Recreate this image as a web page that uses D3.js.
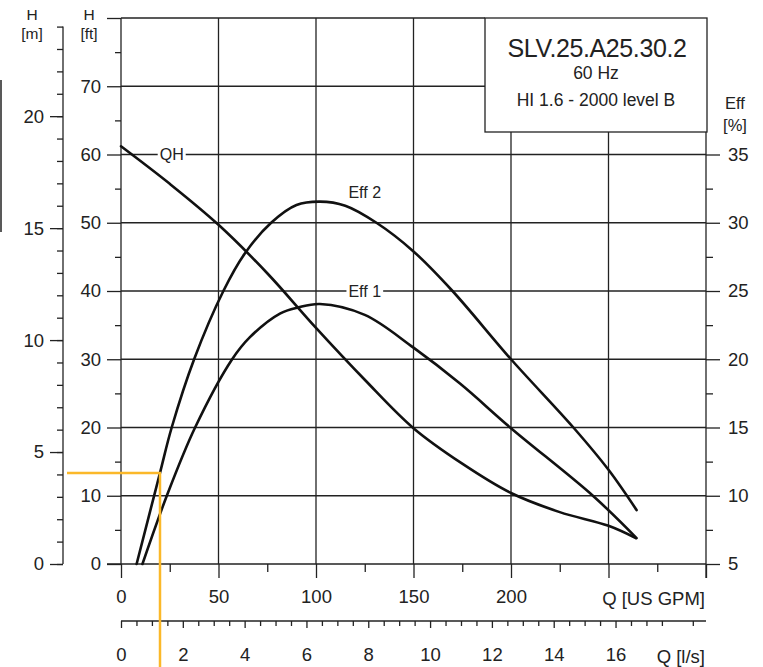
<!DOCTYPE html>
<html>
<head>
<meta charset="utf-8">
<script src="https://cdn.jsdelivr.net/npm/d3@7"></script>
<style>
body { margin: 0; background: #fff; }
text { font-family: "Liberation Sans", Arial, sans-serif; fill: #222; }
</style>
</head>
<body>
<script>
// QH curve: flow in US GPM, head in ft
const qhQ  = [0, 25, 50, 75, 100, 125, 150, 175, 200, 225, 250, 264];
const qhFt = [61.2, 55.7, 49.7, 42.6, 34.6, 27.0, 19.9, 14.7, 10.4, 7.6, 5.6, 3.8];

// efficiency curves, %
const eff1Q = [11, 23.5, 38, 57, 66, 81.5, 91, 102, 125, 150, 174, 200, 242, 264.4];
const eff1  = [5, 10, 15, 20, 21.6, 23.35, 23.8, 24.05, 23.25, 20.85, 18.2, 14.95, 10, 6.9];
const eff2Q = [8, 20, 26, 37.5, 52.5, 63.5, 77, 90, 102, 115, 131, 150, 170, 200, 232, 250, 264.4];
const eff2  = [5, 11.68, 15, 20, 25, 27.75, 30, 31.3, 31.55, 31.25, 30, 27.9, 25, 20, 15, 11.9, 8.95];

// duty point (GPM, ft)
const dutyPoint = [20, 13.35];

const gpmTicks = [0, 50, 100, 150, 200, 250, 300];
const ftTicks  = [0, 10, 20, 30, 40, 50, 60, 70, 80];
const mTicks   = [0, 5, 10, 15, 20];
const effTicks = [5, 10, 15, 20, 25, 30, 35];
const lsTicks  = [0, 2, 4, 6, 8, 10, 12, 14, 16, 18];
const titleLines = ["SLV.25.A25.30.2", "60 Hz", "HI 1.6 - 2000 level B"];

const W = 763, H = 667;
const L = 121, R = 706, T = 18, B = 564;
const box = {x: 485, y: 18, w: 222, h: 114};
const ink = "#222";

const x = d3.scaleLinear().domain([0, 300]).range([L, R]);
const yFt = d3.scaleLinear().domain([0, 80]).range([B, T]);
const yM = d3.scaleLinear().domain([0, 80 / 3.28084]).range([B, T]);
const yEff = d3.scaleLinear().domain([5, 45]).range([B, T]);
const xLs = d3.scaleLinear().domain([0, 300 / 15.850323]).range([L, R]);

const svg = d3.select("body").append("svg")
    .attr("width", W)
    .attr("height", H);

function styleAxis(g) {
    g.select(".domain").remove();
    g.attr("font-size", 18.5)
     .attr("font-family", "Liberation Sans, Arial, sans-serif")
     .style("color", ink);
    g.selectAll("line").attr("stroke-width", 1.3);
}

// grid
svg.append("g").selectAll("line")
    .data(ftTicks.filter(d => d > 0))
    .enter().append("line")
    .attr("x1", L)
    .attr("x2", d => d >= 70 ? box.x : R)
    .attr("y1", d => yFt(d)).attr("y2", d => yFt(d))
    .attr("stroke", ink).attr("stroke-width", 1.3);

svg.append("g").selectAll("line")
    .data(gpmTicks.filter(d => d > 0 && d < 300))
    .enter().append("line")
    .attr("x1", d => x(d)).attr("x2", d => x(d))
    .attr("y1", B)
    .attr("y2", d => x(d) > box.x ? box.y + box.h : T)
    .attr("stroke", ink).attr("stroke-width", 1.3);

// axis lines
function rule(x1, y1, x2, y2, w) {
    svg.append("line").attr("x1", x1).attr("y1", y1).attr("x2", x2).attr("y2", y2)
        .attr("stroke", ink).attr("stroke-width", w || 1.3);
}
rule(L, T, L, B);
rule(L - 14, B, R, B);
rule(R, box.y + box.h, R, B + 14);
rule(63, yM(0), 63, yM(24));
rule(L, 621, R, 621);
rule(1, 80, 1, 232, 1.5);   // stray edge line on the left

// ft axis
svg.append("g").attr("transform", "translate(" + L + ",0)")
    .call(d3.axisLeft(yFt).tickValues(ftTicks).tickSize(14).tickPadding(6)
        .tickFormat(d => d === 80 ? "" : d))
    .call(styleAxis);
svg.append("g").attr("transform", "translate(" + L + ",0)")
    .call(d3.axisLeft(yFt).tickValues(d3.range(5, 80, 10)).tickSize(6).tickFormat(""))
    .call(styleAxis);

// m axis
svg.append("g").attr("transform", "translate(63,0)")
    .call(d3.axisLeft(yM).tickValues(mTicks).tickSize(13).tickPadding(6))
    .call(styleAxis);
svg.append("g").attr("transform", "translate(63,0)")
    .call(d3.axisLeft(yM).tickValues(d3.range(0, 25)).tickSize(6).tickFormat(""))
    .call(styleAxis);

// eff axis
svg.append("g").attr("transform", "translate(" + R + ",0)")
    .call(d3.axisRight(yEff).tickValues(effTicks).tickSize(14).tickPadding(8))
    .call(styleAxis);
svg.append("g").attr("transform", "translate(" + R + ",0)")
    .call(d3.axisRight(yEff).tickValues(d3.range(7.5, 35, 5)).tickSize(7).tickFormat(""))
    .call(styleAxis);

// GPM axis
svg.append("g").attr("transform", "translate(0," + B + ")")
    .call(d3.axisBottom(x).tickValues(gpmTicks).tickSize(14).tickPadding(12)
        .tickFormat(d => d <= 200 ? d : ""))
    .call(styleAxis);
svg.append("g").attr("transform", "translate(0," + B + ")")
    .call(d3.axisBottom(x).tickValues(d3.range(25, 300, 50)).tickSize(8).tickFormat(""))
    .call(styleAxis);

// l/s axis
svg.append("g").attr("transform", "translate(0,621)")
    .call(d3.axisBottom(xLs).tickValues(lsTicks.filter(d => d <= 16)).tickSize(7).tickPadding(20))
    .call(styleAxis);
svg.append("g").attr("transform", "translate(0,621)")
    .call(d3.axisBottom(xLs).tickValues(d3.range(0.5, 18.9, 0.5).filter(d => d % 2 !== 0)).tickSize(5).tickFormat(""))
    .call(styleAxis);

// axis titles
function label(tx, ty, s, anchor, size) {
    return svg.append("text").attr("x", tx).attr("y", ty)
        .attr("text-anchor", anchor || "middle")
        .attr("dominant-baseline", "central")
        .attr("font-size", size || 17)
        .text(s);
}
label(32, 14.5, "H", "middle", 15.5); label(32, 33, "[m]", "middle", 15.5);
label(89, 14.5, "H", "middle", 15.5); label(89, 33, "[ft]", "middle", 15.5);
label(735, 103, "Eff", "middle", 16.5); label(735, 125, "[%]", "middle", 16.5);
label(705, 598, "Q [US GPM]", "end", 18.5);
label(705, 656, "Q [l/s]", "end", 18.5);

// title box
svg.append("rect").attr("x", box.x).attr("y", box.y)
    .attr("width", box.w).attr("height", box.h)
    .attr("fill", "#fff").attr("stroke", ink).attr("stroke-width", 1.3);
label(box.x + box.w / 2 + 1, 48, titleLines[0], "middle", 25).attr("letter-spacing", -0.4);
label(box.x + box.w / 2, 73, titleLines[1], "middle", 17.5);
label(box.x + box.w / 2, 100, titleLines[2], "middle", 17.5);

// curves
const line = d3.line().curve(d3.curveCatmullRom.alpha(0.5));
function curve(qs, ys, yScale) {
    svg.append("path")
        .attr("d", line(qs.map((q, i) => [x(q), yScale(ys[i])])))
        .attr("fill", "none")
        .attr("stroke", "#111")
        .attr("stroke-width", 2.6)
        .attr("stroke-linecap", "round");
}
curve(qhQ, qhFt, yFt);
curve(eff1Q, eff1, yEff);
curve(eff2Q, eff2, yEff);

// curve labels (white gap in grid)
function curveLabel(q, ft, s) {
    const t = label(x(q), yFt(ft), s, "middle", 16);
    const bb = t.node().getBBox();
    svg.insert("rect", () => t.node())
        .attr("x", bb.x - 2).attr("y", bb.y + 3)
        .attr("width", bb.width + 4).attr("height", bb.height - 6)
        .attr("fill", "#fff");
}
curveLabel(26, 60, "QH");
curveLabel(125, 40, "Eff 1");
curveLabel(125, 54.5, "Eff 2");

// duty point lines
const px = x(dutyPoint[0]), py = yFt(dutyPoint[1]);
svg.append("line").attr("x1", 67).attr("x2", px + 1).attr("y1", py).attr("y2", py)
    .attr("stroke", "#fbb829").attr("stroke-width", 2.5);
svg.append("line").attr("x1", px).attr("x2", px).attr("y1", py).attr("y2", H)
    .attr("stroke", "#fbb829").attr("stroke-width", 2.5);
</script>
</body>
</html>
